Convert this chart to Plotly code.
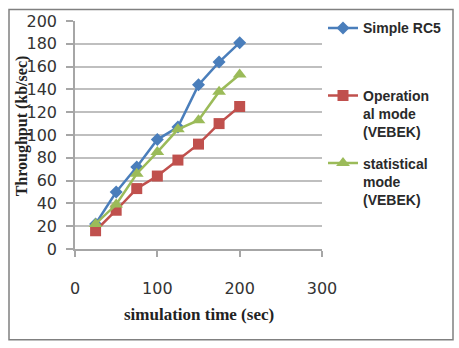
import plotly.graph_objects as go

sim_time = [25, 50, 75, 100, 125, 150, 175, 200]
simple_rc5 = [22, 50, 72, 96, 107, 144, 164, 181]
operational = [16, 34, 53, 64, 78, 92, 110, 125]
statistical = [22, 39, 66, 85, 105, 113, 138, 153]

x_ticks = [0, 100, 200, 300]
y_ticks = [0, 20, 40, 60, 80, 100, 120, 140, 160, 180, 200]

W, H = 459, 348
L, R, T, B = 75, 322, 13, 249  # plot area in pixels

fig = go.Figure()
fig.add_trace(go.Scatter(
    x=sim_time, y=simple_rc5, name="Simple RC5<br> <br> ", mode="lines+markers",
    line=dict(color="#4A7EBB", width=2.5),
    marker=dict(symbol="diamond", size=10, color="#4A7EBB"),
    legendgroup="a"))
fig.add_trace(go.Scatter(
    x=sim_time, y=operational, name="Operation<br>al mode<br>(VEBEK)", mode="lines+markers",
    line=dict(color="#C0504D", width=2.5),
    marker=dict(symbol="square", size=11, color="#C0504D"),
    legendgroup="b"))
fig.add_trace(go.Scatter(
    x=sim_time, y=statistical, name="statistical<br>mode<br>(VEBEK)", mode="lines+markers",
    line=dict(color="#9BBB59", width=2.5),
    marker=dict(symbol="triangle-up", size=12, color="#9BBB59"),
    legendgroup="c"))

def px(xp):
    return (xp - L) / (R - L)

def py(yp):
    return (B - yp) / (B - T)

fig.update_layout(
    width=W, height=H,
    margin=dict(l=L, r=W - R, t=T, b=H - B, pad=0),
    paper_bgcolor="white", plot_bgcolor="white",
    showlegend=True,
    legend=dict(x=px(323), y=py(4), xanchor="left", yanchor="top",
                font=dict(family="Liberation Sans", size=14, color="#2a2a2a", weight="bold"),
                valign="top", tracegroupgap=10, bgcolor="rgba(0,0,0,0)",
                maxheight=340),
    xaxis=dict(range=[0, 300], tickvals=x_ticks, showgrid=False, zeroline=False,
               showline=True, linecolor="#A6A6A6", linewidth=1.5,
               ticks="outside", ticklen=6, tickcolor="#A6A6A6", tickwidth=1.5,
               ticklabelstandoff=18,
               tickfont=dict(family="DejaVu Sans", size=16, color="#333333")),
    yaxis=dict(range=[0, 200], tickvals=y_ticks, showgrid=True, gridcolor="#BFBFBF",
               gridwidth=1.5, zeroline=False,
               showline=True, linecolor="#A6A6A6", linewidth=1.5,
               ticks="outside", ticklen=7, tickcolor="#A6A6A6", tickwidth=1.5,
               ticklabelstandoff=6,
               tickfont=dict(family="DejaVu Sans", size=16, color="#333333")),
    annotations=[
        dict(text="simulation time (sec)", xref="paper", yref="paper",
             x=px(199), y=py(317), showarrow=False, xanchor="center", yanchor="middle",
             font=dict(family="Liberation Serif", size=17, color="#222222", weight="bold")),
        dict(text="Throughput (kb/sec)", xref="paper", yref="paper", textangle=-90,
             x=px(22), y=py(122), showarrow=False, xanchor="center", yanchor="middle",
             font=dict(family="Liberation Serif", size=16, color="#222222", weight="bold")),
    ],
    shapes=[
        dict(type="rect", xref="paper", yref="paper",
             x0=px(9), x1=px(453), y0=py(343), y1=py(1),
             line=dict(color="#808080", width=1.5), layer="below"),
    ],
)

fig.write_html("out.html")
